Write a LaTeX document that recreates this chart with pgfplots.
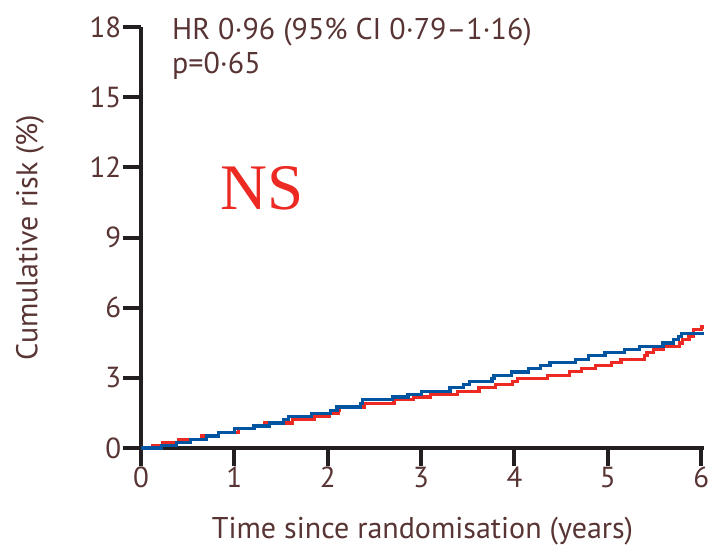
\documentclass[border=0pt]{standalone}
\usepackage{fontspec}
\setmainfont{PT Sans}
\newfontfamily\seriffont{Liberation Serif}
\usepackage{pgfplots}
\pgfplotsset{compat=1.18}
\definecolor{txt}{RGB}{88,52,52}
\definecolor{axisblack}{RGB}{35,31,32}
\definecolor{armred}{RGB}{237,41,36}
\definecolor{armblue}{RGB}{0,84,160}

% Kaplan-Meier style cumulative risk, two arms
\pgfplotstableread{
x y
0 0
0.12 0.12
0.23 0.24
0.40 0.37
0.65 0.51
0.83 0.67
1.04 0.82
1.21 0.94
1.32 1.07
1.62 1.23
1.86 1.36
2.02 1.49
2.11 1.62
2.13 1.75
2.39 1.90
2.71 2.06
2.92 2.18
3.10 2.30
3.39 2.43
3.62 2.58
3.80 2.72
3.98 2.85
4.03 2.98
4.35 3.11
4.59 3.26
4.72 3.41
4.87 3.54
5.04 3.66
5.14 3.79
5.39 3.95
5.42 4.09
5.49 4.22
5.60 4.35
5.77 4.49
5.80 4.63
5.87 4.78
5.92 5.05
6.00 5.17
6.03 5.17
}\redarm

\pgfplotstableread{
x y
0 0
0.22 0.12
0.38 0.24
0.53 0.37
0.70 0.51
0.83 0.67
1.00 0.82
1.21 0.94
1.38 1.07
1.53 1.22
1.58 1.36
1.83 1.49
2.03 1.62
2.10 1.75
2.35 1.90
2.37 2.06
2.69 2.18
2.86 2.30
3.00 2.43
3.31 2.58
3.45 2.72
3.52 2.86
3.76 2.98
3.78 3.11
3.97 3.25
4.15 3.41
4.28 3.54
4.38 3.66
4.65 3.79
4.79 3.95
4.97 4.09
5.18 4.22
5.34 4.35
5.59 4.49
5.70 4.65
5.76 4.78
5.79 4.91
6.03 4.91
}\bluearm

\begin{document}
\fontsize{14}{16}\selectfont
\begin{tikzpicture}
\begin{axis}[
  at={(0,0)}, anchor=south west,
  scale only axis, width=281.5pt, height=210.5pt,
  xmin=0, xmax=6.03, ymin=0, ymax=18,
  axis x line=bottom, axis y line=left,
  axis line style={-, line width=2pt, draw=axisblack},
  xtick={0,1,...,6}, ytick={0,3,...,18},
  tick align=outside, major tick length=9pt,
  xtick style={draw=axisblack, line width=2pt},
  ytick style={draw=axisblack, line width=2pt},
  tick label style={font=\fontsize{14.5}{16}\selectfont, text=txt},
  xticklabel style={yshift=4.5pt},
  yticklabel style={xshift=4pt},
  /pgf/number format/assume math mode=true,
  xlabel={Time since randomisation (years)},
  ylabel={Cumulative risk (\%)},
  label style={font=\fontsize{15}{17}\selectfont, text=txt},
  xlabel style={at={(axis description cs:0.5,-0.216)}, anchor=base},
  ylabel style={at={(axis description cs:-0.197,0.5)}, anchor=center},
  clip=false,
]
\addplot[const plot, armred, line width=1.6pt] table {\redarm};
\addplot[const plot, armblue, line width=1.6pt] table {\bluearm};
\node[anchor=north west, align=left, text=txt, inner sep=0pt,
      font=\fontsize{15}{17}\selectfont] at (axis cs:0.33,18.38)
  {HR 0·96 (95\% CI 0·79–1·16)\\p=0·65};
\node[text=armred, font=\seriffont\fontsize{32.5}{36}\selectfont] at (axis cs:1.30,11.1) {NS};
\end{axis}
% page extent
\pgfresetboundingbox
\path[use as bounding box] (-70.5pt,-49.5pt) rectangle (287.5pt,224pt);
\end{tikzpicture}
\end{document}
